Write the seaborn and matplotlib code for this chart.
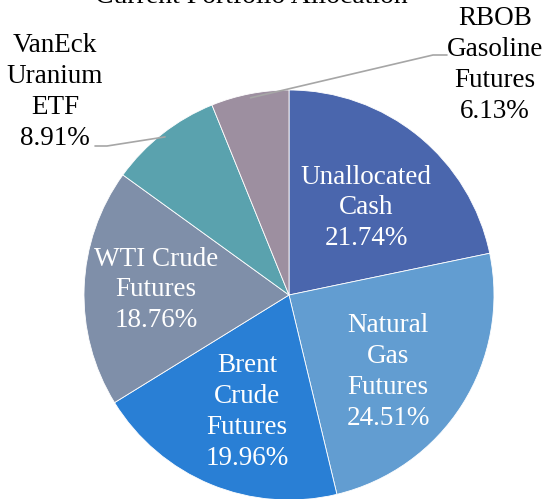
import numpy as np
import matplotlib
matplotlib.use("Agg")
import matplotlib.pyplot as plt
import seaborn as sns

categories = ["Unallocated\nCash", "Natural\nGas\nFutures", "Brent\nCrude\nFutures",
              "WTI Crude\nFutures", "VanEck\nUranium\nETF", "RBOB\nGasoline\nFutures"]
values = [21.74, 24.51, 19.96, 18.76, 8.91, 6.13]
colors = ["#4a66ad", "#629dd1", "#297fd5", "#7f8fa9", "#5aa2ae", "#9d8fa0"]
title = "Current Portfolio Allocation"

sns.set_theme(style="white")
plt.rcParams['font.family'] = ['Liberation Serif', 'DejaVu Serif']

W, H = 551, 499
fig = plt.figure(figsize=(W / 100, H / 100), dpi=100)
ax = fig.add_axes([0, 0, 1, 1])
pal = sns.color_palette(colors)
wedges, _ = ax.pie(values, colors=pal, startangle=90, counterclock=False,
                   wedgeprops=dict(edgecolor="white", linewidth=0.6))

cx, cy, R = 289, 295, 205
ax.set_xlim(-cx / R, (W - cx) / R)
ax.set_ylim(-(H - cy) / R, cy / R)
ax.set_aspect('equal')
ax.axis('off')

def px(x, y):
    return ((x - cx) / R, (cy - y) / R)

# label anchor positions (pixels) for each slice label
label_pos = [(366, 208), (388, 372), (247, 412), (156, 290), (55, 92), (495, 65)]
fs = 19.5
ls = 1.3
for i, w in enumerate(wedges):
    lab = f"{categories[i]}\n{values[i]:.2f}%"
    tx, ty = px(*label_pos[i])
    ax.text(tx, ty, lab, ha='center', va='center',
            color='white' if i < 4 else 'black', fontsize=fs, linespacing=ls)

# leader lines
w = wedges[4]
ang = np.deg2rad((w.theta1 + w.theta2) / 2)
ex, ey = np.cos(ang), np.sin(ang)
p1 = px(95, 146); p2 = px(107, 146)
ax.plot([p1[0], p2[0], ex * 0.98], [p1[1], p2[1], ey * 0.98], color='#a6a6a6', lw=1.2)

w = wedges[5]
ang = np.deg2rad((w.theta1 + w.theta2) / 2)
ex, ey = np.cos(ang), np.sin(ang)
p1 = px(447, 55); p2 = px(433, 55)
ax.plot([p1[0], p2[0], ex * 0.98], [p1[1], p2[1], ey * 0.98], color='#a6a6a6', lw=1.2)

tx, ty = px(251, 3)
ax.text(tx, ty, title, ha='center', va='baseline', fontsize=20, color='black')

fig.savefig("out.png", dpi=100)
